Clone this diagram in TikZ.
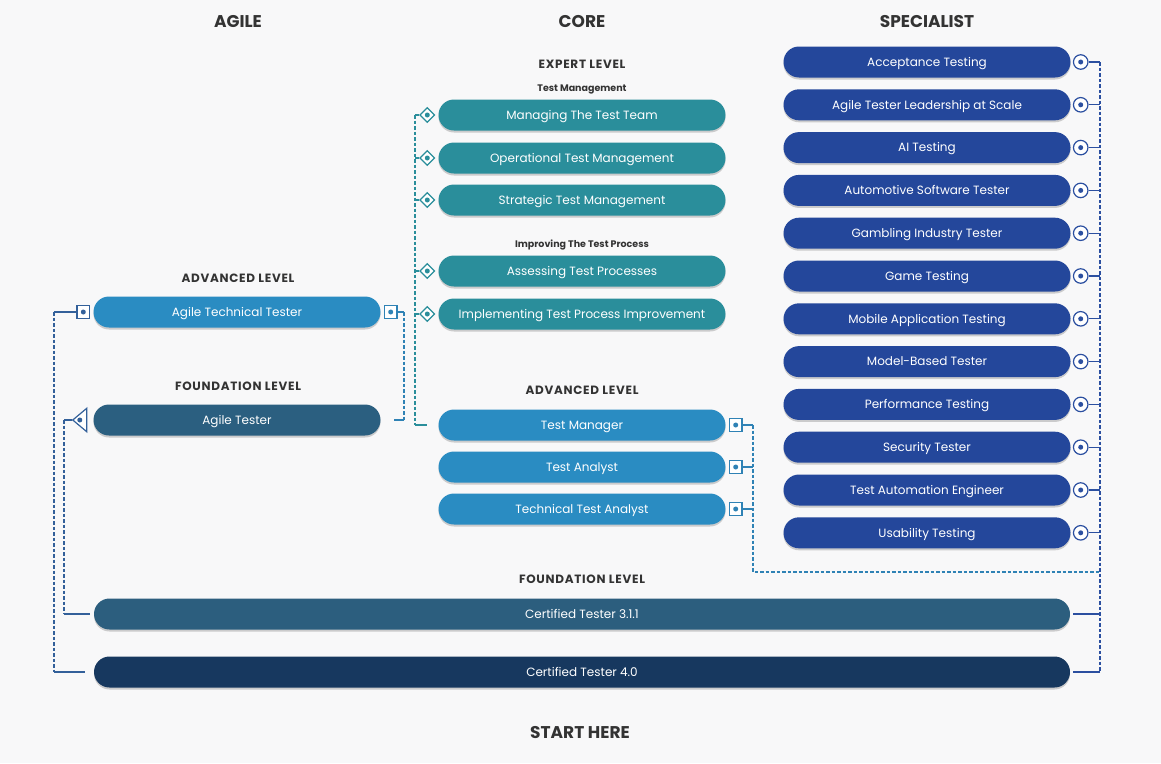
\documentclass[tikz,border=0pt]{standalone}
\usepackage{fontspec}
\setmainfont{Poppins}
\usetikzlibrary{shapes.geometric,shadows}
\definecolor{bgcol}{HTML}{F8F8F9}
\definecolor{headcol}{HTML}{333333}
\definecolor{tealcol}{HTML}{2A8E9B}
\definecolor{advcol}{HTML}{2A8CC2}
\definecolor{agfcol}{HTML}{2B5F80}
\definecolor{speccol}{HTML}{24479B}
\definecolor{ctthree}{HTML}{2C5E7E}
\definecolor{ctfour}{HTML}{17385F}
\definecolor{agline}{HTML}{2F82B5}
\definecolor{leftcol}{HTML}{33609A}
\definecolor{speclinecol}{HTML}{2B4FA0}
\tikzset{
  colhead/.style={text=headcol,font=\fontsize{17}{19}\selectfont\bfseries,text height=12pt,text depth=0pt},
  lvlhead/.style={text=headcol,font=\fontsize{12}{14}\selectfont\bfseries\addfontfeature{LetterSpace=6},text height=8.5pt,text depth=0pt},
  subhead/.style={text=headcol,font=\fontsize{9.5}{11}\selectfont\bfseries,text height=6.7pt,text depth=0pt},
  pill/.style={rounded corners=15.5pt,minimum height=31pt,minimum width=287pt,inner sep=0pt,
    text=white,font=\fontsize{12}{14}\selectfont,text height=8.5pt,text depth=0pt,
    drop shadow={shadow xshift=0pt,shadow yshift=-2pt,opacity=.18,fill=black}},
  tealbox/.style={pill,fill=tealcol},
  advbox/.style={pill,fill=advcol},
  agfbox/.style={pill,fill=agfcol},
  specbox/.style={pill,fill=speccol},
  ctbox/.style={pill,minimum width=976pt},
  dotin/.style={path picture={\fill[#1] (path picture bounding box.center) circle (2.5pt);}},
  diamark/.style={diamond,draw=tealcol,line width=1.2pt,fill=white,minimum size=15pt,inner sep=0pt,dotin=tealcol},
  sqmark/.style={rectangle,draw=#1,line width=1.2pt,fill=white,minimum size=12.5pt,inner sep=0pt,dotin=#1},
  ringmark/.style={circle,draw=speclinecol,line width=1.2pt,fill=white,minimum size=14.5pt,inner sep=0pt,dotin=speclinecol},
  trimark/.style={isosceles triangle,shape border rotate=180,isosceles triangle apex angle=80,
    draw=leftcol,line width=1.2pt,fill=white,minimum height=14pt,minimum width=16pt,inner sep=0pt,dotin=leftcol},
  bus/.style={line width=1.2pt,dash pattern=on 3.5pt off 2pt},
}
\begin{document}
\begin{tikzpicture}[x=1pt,y=-1pt]
\fill[bgcol] (0,0) rectangle (1161,763);
\useasboundingbox (0,0) rectangle (1161,763);

\node[colhead] (hagile) at (238,21) {AGILE};
\node[colhead] (hcore) at (582,21) {CORE};
\node[colhead] (hspec) at (927,21) {SPECIALIST};

\node[lvlhead] (hexpert) at (582,64) {EXPERT LEVEL};
\node[subhead] (htm) at (582,88) {Test Management};
\node[subhead] (hitp) at (582,244) {Improving The Test Process};
\foreach \y/\t [count=\i] in {115/Managing The Test Team,158/Operational Test Management,200/Strategic Test Management,271/Assessing Test Processes,314/Implementing Test Process Improvement}
\node[tealbox] (e\i) at (582,\y) {\t};

\node[lvlhead] (hcadv) at (582,390) {ADVANCED LEVEL};
\foreach \y/\t [count=\i] in {425/Test Manager,467/Test Analyst,509/Technical Test Analyst}
\node[advbox] (a\i) at (582,\y) {\t};

\node[lvlhead] (haadv) at (238,278) {ADVANCED LEVEL};
\node[advbox] (att) at (237,312) {Agile Technical Tester};
\node[lvlhead] (hafnd) at (238,386) {FOUNDATION LEVEL};
\node[agfbox] (agt) at (237,420) {Agile Tester};

\foreach \t [count=\i] in {Acceptance Testing,Agile Tester Leadership at Scale,AI Testing,Automotive Software Tester,Gambling Industry Tester,Game Testing,Mobile Application Testing,Model-Based Tester,Performance Testing,Security Tester,Test Automation Engineer,Usability Testing}
\node[specbox] (s\i) at (927,{19.2+42.8*\i}) {\t};

\node[lvlhead] (hcfnd) at (582,579) {FOUNDATION LEVEL};
\node[ctbox,fill=ctthree] (ct3) at (582,614) {Certified Tester 3.1.1};
\node[ctbox,fill=ctfour] (ct4) at (582,672) {Certified Tester 4.0};
\node[colhead] (hstart) at (580,732) {START HERE};

\coordinate (ebus) at (415,115);
\coordinate (abus) at (404,312);
\coordinate (lbus) at (54,312);
\coordinate (ibus) at (64,420);
\coordinate (rbus) at (753,425);
\coordinate (rbusb) at (753,572);
\coordinate (sbus) at (1100,62);

\draw[bus,tealcol] (ebus) -- (ebus |- a1.west);
\draw[line width=1.2pt,tealcol,shorten >=11pt] (ebus |- a1.west) -- (a1.west);
\foreach \i in {1,...,5}{
\node[diamark] (d\i) at ([xshift=-11pt]e\i.west) {};
\draw[line width=1.2pt,tealcol] (d\i.west) -- (d\i.west -| ebus);
}

\node[sqmark=agline] (qatr) at ([xshift=10pt]att.east) {};
\draw[line width=1.2pt,agline] (qatr.east) -- (abus);
\draw[bus,agline] (abus) -- (abus |- agt.east);
\draw[line width=1.2pt,agline,shorten >=13pt] (abus |- agt.east) -- (agt.east);

\node[sqmark=leftcol] (qatl) at ([xshift=-10pt]att.west) {};
\draw[line width=1.2pt,leftcol] (qatl.west) -- (lbus);
\draw[bus,leftcol] (lbus) -- (lbus |- ct4.west);
\draw[line width=1.2pt,leftcol,shorten >=9pt] (lbus |- ct4.west) -- (ct4.west);

\node[trimark] (tri) at ([xshift=-12pt]agt.west) {};
\draw[line width=1.2pt,leftcol] (tri.apex) -- (ibus);
\draw[bus,leftcol] (ibus) -- (ibus |- ct3.west);
\draw[line width=1.2pt,leftcol,shorten >=4pt] (ibus |- ct3.west) -- (ct3.west);

\foreach \i in {1,2,3}{
\node[sqmark=agline] (q\i) at ([xshift=10pt]a\i.east) {};
\draw[line width=1.2pt,agline] (q\i.east) -- (q\i.east -| rbus);
}
\draw[bus,agline] (rbus) -- (rbusb) -- (rbusb -| sbus);

\foreach \i in {1,...,12}{
\node[ringmark] (c\i) at ([xshift=10pt]s\i.east) {};
\draw[line width=1.2pt,speclinecol] (c\i.east) -- (c\i.east -| sbus);
}
\draw[bus,speclinecol] (sbus) -- (sbus |- ct4.east);
\draw[line width=1.2pt,speclinecol,shorten >=3pt] (sbus |- ct3.east) -- (ct3.east);
\draw[line width=1.2pt,speclinecol,shorten >=3pt] (sbus |- ct4.east) -- (ct4.east);
\end{tikzpicture}
\end{document}
